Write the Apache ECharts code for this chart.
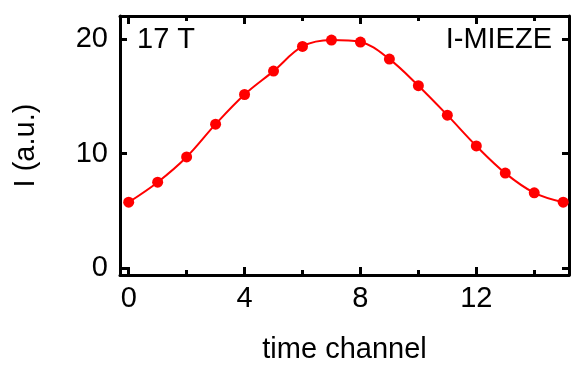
<!DOCTYPE html>
<html>
<head>
<meta charset="utf-8">
<script src="https://cdn.jsdelivr.net/npm/echarts@6/dist/echarts.min.js"></script>
<style>html,body{margin:0;padding:0;background:#fff}#c{width:573px;height:369px}</style>
</head>
<body>
<div id="c"></div>
<script>
var timeChannel = [0,1,2,3,4,5,6,7,8,9,10,11,12,13,14,15];
var intensity = [5.75,7.5,9.7,12.56,15.15,17.19,19.34,19.9,19.73,18.24,15.92,13.35,10.66,8.29,6.57,5.75];
var xMajorTicks = [0,4,8,12];
var xMinorTicks = [2,6,10,14];
var yTicks = [0,10,20];
var fieldLabel = '17 T';
var methodLabel = 'I-MIEZE';
var xName = 'time channel';
var yName = 'I (a.u.)';

var FONT = 'Liberation Sans, Arial, sans-serif';
var FS = 29;
var chart = echarts.init(document.getElementById('c'), null, {renderer:'canvas'});
function xa(pos, ticks, len, showLine, showLabel, name){
  return {
    type:'value', position:pos, min:-0.3, max:15.2,
    name: name || '', nameLocation:'middle', nameGap:60,
    nameTextStyle:{fontFamily:FONT,fontSize:FS,color:'#000'},
    axisLine:{show:showLine,onZero:false,lineStyle:{color:'#000',width:3}},
    axisTick:{show:true,inside:true,length:len,customValues:ticks,lineStyle:{color:'#000',width:3}},
    axisLabel:{show:showLabel,customValues:ticks,margin:9,fontFamily:FONT,fontSize:FS,color:'#000'},
    splitLine:{show:false}
  };
}
function ya(pos, showLabel, name){
  return {
    type:'value', position:pos, min:-0.6, max:22,
    name: name || '', nameLocation:'middle', nameGap:80,
    nameTextStyle:{fontFamily:FONT,fontSize:FS,color:'#000'},
    axisLine:{show:true,onZero:false,lineStyle:{color:'#000',width:3}},
    axisTick:{show:true,inside:true,length:7,customValues:yTicks,lineStyle:{color:'#000',width:3}},
    axisLabel:{show:showLabel,customValues:yTicks,margin:12,fontFamily:FONT,fontSize:FS,color:'#000'},
    splitLine:{show:false}
  };
}
var data = timeChannel.map(function(t,i){return [t,intensity[i]];});
chart.setOption({
  animation:false,
  grid:{left:120,top:16,right:4,bottom:87,containLabel:false},
  xAxis:[
    xa('bottom', xMajorTicks, 8, true, true, xName),
    xa('bottom', xMinorTicks, 5, false, false),
    xa('top', xMajorTicks, 8, true, false),
    xa('top', xMinorTicks, 5, false, false)
  ],
  yAxis:[ ya('left', true, yName), ya('right', false) ],
  graphic:[
    {type:'text', left:137, top:25, style:{text:fieldLabel, font:FS+'px '+FONT, fill:'#000'}},
    {type:'text', right:21, top:25, style:{text:methodLabel, font:FS+'px '+FONT, fill:'#000'}}
  ],
  series:[{
    type:'line', xAxisIndex:0, yAxisIndex:0, data:data, smooth:0.35,
    symbol:'circle', symbolSize:11,
    lineStyle:{color:'#ff0000',width:2},
    itemStyle:{color:'#ff0000'}
  }]
});
</script>
</body>
</html>
